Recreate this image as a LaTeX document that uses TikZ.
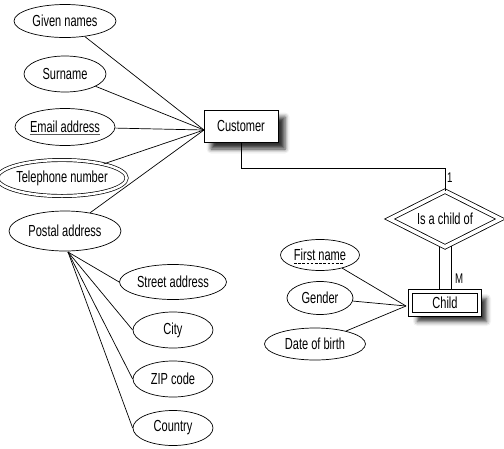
\documentclass[tikz,border=0pt]{standalone}
\usepackage{fontspec}
\setmainfont{Liberation Sans}[FakeStretch=0.69]
\usetikzlibrary{shapes.geometric,shadows.blur,backgrounds}
\newcommand\mydashul[1]{\setbox0\hbox{#1}\leavevmode\rlap{\smash{\lower2.6pt\hbox to\wd0{\leaders\hbox{\vrule height0.7pt width2.6pt\kern1.6pt}\hfill}}}\box0}
\newcommand\mysolidul[1]{\setbox0\hbox{#1}\leavevmode\rlap{\smash{\lower2.6pt\hbox{\color{black!65}\vrule height0.9pt width\wd0}}}\box0}
\begin{document}
\begin{tikzpicture}[x=1pt,y=-1pt,
  every node/.style={font=\fontsize{16}{18}\selectfont, inner sep=0pt},
  attr/.style={ellipse, draw, line width=0.7pt, fill=white},
  ent/.style={rectangle, draw, line width=0.8pt, fill=white,
     blur shadow={shadow xshift=7pt, shadow yshift=-7pt, shadow blur radius=4.5pt, shadow opacity=80}},
  conn/.style={line width=0.7pt},
  card/.style={font=\fontsize{14}{16}\selectfont}]
\useasboundingbox (0,0) rectangle (504,448);
% Customer side
\node[ent, minimum width=74pt, minimum height=32pt] (cust) at (241,126) {Customer};
\node[attr, minimum width=102pt, minimum height=33pt] (given) at (65,21) {Given names};
\node[attr, minimum width=82pt, minimum height=36pt] (sur) at (65,74) {Surname};
\node[attr, minimum width=100pt, minimum height=37pt] (email) at (65,127) {\mysolidul{Email address}};
\node[attr, minimum width=118pt, minimum height=36pt, double, double distance=2.5pt] (tel) at (62,178) {Telephone number};
\node[attr, minimum width=112pt, minimum height=40pt] (post) at (65,231) {Postal address};
\coordinate (cw) at (204,130);
\foreach \a in {given,sur,email,tel,post} \draw[conn] (\a) -- (cw);
% Postal sub-attributes
\node[attr, minimum width=107pt, minimum height=35pt] (street) at (173,282) {Street address};
\node[attr, minimum width=80pt, minimum height=36pt] (city) at (173,330) {City};
\node[attr, minimum width=80pt, minimum height=36pt] (zip) at (173,379) {ZIP code};
\node[attr, minimum width=80pt, minimum height=35pt] (country) at (173,428) {Country};
\coordinate (ps) at (68,252);
\foreach \a in {street,city,zip,country} \draw[conn] (ps) -- (\a.west);
% Relationship
\node[diamond, draw, line width=0.8pt, double, double distance=3.6pt, fill=white, aspect=1.9, minimum width=111pt, minimum height=56pt] (rel) at (445,219) {Is a child of};
\coordinate (bend) at (445,168);
\draw[conn] (cust.south) |- (bend) -- (rel.north);
\node[card, anchor=west] (one) at (447,178) {1};
% Child entity
\node[ent, double, double distance=3.4pt, minimum width=69pt, minimum height=23pt] (child) at (445,303) {Child};
\begin{pgfonlayer}{background}
\draw[conn] ([xshift=-6pt]rel.center) -- ([xshift=-6pt]child.north);
\draw[conn] ([xshift=6pt]rel.center) -- ([xshift=6pt]child.north);
\end{pgfonlayer}
\node[card, anchor=west] (m) at (455,279) {M};
\node[attr, minimum width=79pt, minimum height=31pt] (fname) at (320,255) {\mydashul{First name}};
\node[attr, minimum width=66pt, minimum height=33pt] (gender) at (320,298) {Gender};
\node[attr, minimum width=101pt, minimum height=32pt] (dob) at (315,344) {Date of birth};
\coordinate (chw) at (406,306);
\foreach \a in {fname,gender,dob} \draw[conn] (\a) -- (chw);
\end{tikzpicture}
\end{document}
